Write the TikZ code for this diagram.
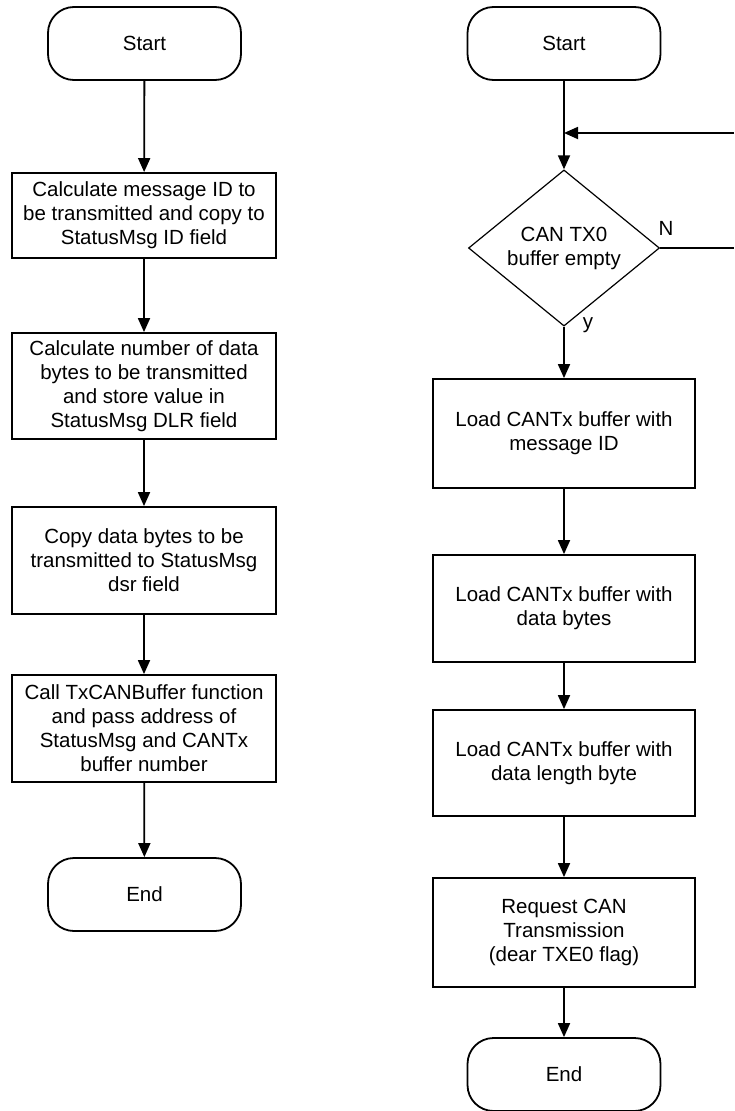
\documentclass[tikz,border=0pt]{standalone}
\usepackage{fontspec}
\setmainfont{Liberation Sans}
\usetikzlibrary{shapes.geometric,arrows.meta}

\begin{document}
\begin{tikzpicture}[x=1pt,y=-1pt,
	every node/.style={font=\fontsize{20.5}{24}\selectfont},
	terminal/.style={draw,line width=1.8pt,rounded corners=26pt,minimum width=193pt,minimum height=73pt},
	process/.style={draw,line width=1.8pt,align=center,inner sep=0pt},
	decision/.style={draw,diamond,line width=1.2pt,align=center,minimum width=191pt,minimum height=142pt,inner sep=0pt},
	flow/.style={line width=1.8pt,-{Triangle[width=12pt,length=14pt]}}
	]
	\useasboundingbox (0,0) rectangle (734,1111);
	
	\node[terminal] (lstart) at (144.5,43.5) {Start};
	\node[process,minimum width=264pt,minimum height=85pt] (calcid) at (144,215.5)
		{Calculate message ID to\\be transmitted and copy to\\StatusMsg ID field};
	\node[process,minimum width=264pt,minimum height=106pt] (calcnum) at (144,386)
		{Calculate number of data\\bytes to be transmitted\\and store value in\\StatusMsg DLR field};
	\node[process,minimum width=264pt,minimum height=107pt] (copydata) at (144,560.5)
		{Copy data bytes to be\\transmitted to StatusMsg\\dsr field};
	\node[process,minimum width=264pt,minimum height=107pt] (callbuf) at (144,728.5)
		{Call TxCANBuffer function\\and pass address of\\StatusMsg and CANTx\\buffer number};
	\node[terminal] (lend) at (144.5,894.5) {End};
	
	\draw[flow] (lstart) -- (calcid);
	\draw[flow] (calcid) -- (calcnum);
	\draw[flow] (calcnum) -- (copydata);
	\draw[flow] (copydata) -- (callbuf);
	\draw[flow] (callbuf) -- (lend);
	
	\node[terminal] (rstart) at (564,43.5) {Start};
	\node[decision] (empty) at (564,248) {CAN TX0\\buffer empty};
	\node[process,minimum width=262pt,minimum height=109pt] (loadid) at (564,433.5)
		{Load CANTx buffer with\\message ID};
	\node[process,minimum width=262pt,minimum height=107pt] (loaddata) at (564,608.5)
		{Load CANTx buffer with\\data bytes};
	\node[process,minimum width=262pt,minimum height=106pt] (loadlen) at (564,763)
		{Load CANTx buffer with\\data length byte};
	\node[process,minimum width=262pt,minimum height=109pt] (request) at (564,932.5)
		{Request CAN\\Transmission\\(dear TXE0 flag)};
	\node[terminal] (rend) at (564,1074.5) {End};
	
	\coordinate (join) at (564,133);
	\coordinate (back) at (734,133);
	\coordinate (loop) at (734,248);
	
	\draw[flow] (rstart) -- (empty);
	\draw[flow] (back) -- (join);
	\draw[line width=1.8pt] (empty.east) -- (loop);
	\draw[flow] (empty) -- (loadid);
	\draw[flow] (loadid) -- (loaddata);
	\draw[flow] (loaddata) -- (loadlen);
	\draw[flow] (loadlen) -- (request);
	\draw[flow] (request) -- (rend);
	
	\node (no) at (666,228) {N};
	\node (yes) at (588,325) {y};
	
\end{tikzpicture}
\end{document}
